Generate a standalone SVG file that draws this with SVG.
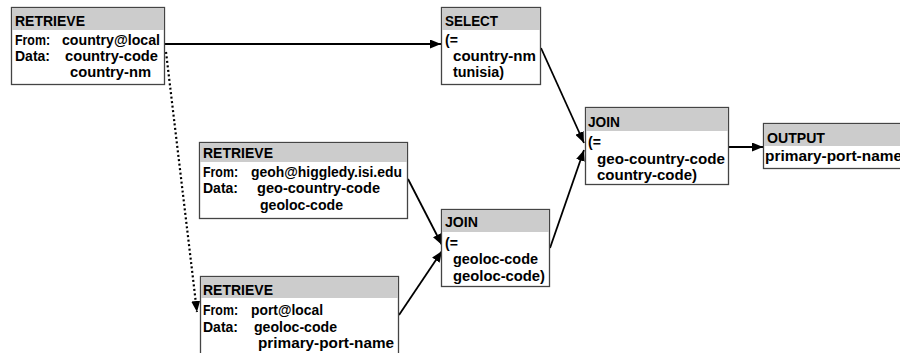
<svg xmlns="http://www.w3.org/2000/svg" width="900" height="353" viewBox="0 0 900 353">
<defs>
<marker id="ah" markerWidth="11" markerHeight="9" refX="11" refY="4.5" orient="auto" markerUnits="userSpaceOnUse">
<path d="M0,0 L11,4.5 L0,9 z" fill="#000"/>
</marker>
<style>
.box{fill:#fff;stroke:#444;stroke-width:1.3}
.hd{fill:#ccc}
text{font-family:"Liberation Sans",Arial,sans-serif;font-weight:bold;font-size:14px;fill:#000}
.c{stroke:#000;stroke-width:1.8;fill:none}
.d{stroke:#000;stroke-width:2.2;fill:none;stroke-dasharray:2,2.5}
</style>
</defs>
<rect width="900" height="353" fill="#fff"/>
<g id="connectors">
<line class="c" x1="165" y1="44" x2="441" y2="44" marker-end="url(#ah)"/>
<path class="d" d="M166,52 L197,312" marker-end="url(#ah)"/>
<line class="c" x1="541" y1="48" x2="584" y2="143" marker-end="url(#ah)"/>
<line class="c" x1="550" y1="248" x2="584" y2="150" marker-end="url(#ah)"/>
<line class="c" x1="408" y1="179" x2="442" y2="245" marker-end="url(#ah)"/>
<line class="c" x1="399" y1="315" x2="442" y2="251" marker-end="url(#ah)"/>
<line class="c" x1="729" y1="147" x2="763" y2="147" marker-end="url(#ah)"/>
</g>
<g id="retrieve1">
<rect class="box" x="11.5" y="7.5" width="153" height="77"/>
<rect class="hd" x="12" y="8" width="152" height="22"/>
<text x="15" y="26" textLength="70" lengthAdjust="spacingAndGlyphs">RETRIEVE</text>
<text x="15" y="45" textLength="35" lengthAdjust="spacingAndGlyphs">From:</text>
<text x="62" y="45" textLength="98" lengthAdjust="spacingAndGlyphs">country@local</text>
<text x="15" y="61" textLength="35" lengthAdjust="spacingAndGlyphs">Data:</text>
<text x="65" y="61" textLength="93" lengthAdjust="spacingAndGlyphs">country-code</text>
<text x="70" y="77" textLength="81" lengthAdjust="spacingAndGlyphs">country-nm</text>
</g>
<g id="select">
<rect class="box" x="441.5" y="7.5" width="99" height="77"/>
<rect class="hd" x="442" y="8" width="98" height="22"/>
<text x="445" y="26" textLength="53" lengthAdjust="spacingAndGlyphs">SELECT</text>
<text x="445" y="45">(=</text>
<text x="453" y="61" textLength="83" lengthAdjust="spacingAndGlyphs">country-nm</text>
<text x="453" y="77" textLength="51" lengthAdjust="spacingAndGlyphs">tunisia)</text>
</g>
<g id="retrieve2">
<rect class="box" x="199.5" y="142.5" width="208" height="76"/>
<rect class="hd" x="200" y="143" width="207" height="19"/>
<text x="203" y="158" textLength="70" lengthAdjust="spacingAndGlyphs">RETRIEVE</text>
<text x="203" y="177" textLength="35" lengthAdjust="spacingAndGlyphs">From:</text>
<text x="251" y="177" textLength="151" lengthAdjust="spacingAndGlyphs">geoh@higgledy.isi.edu</text>
<text x="203" y="193" textLength="35" lengthAdjust="spacingAndGlyphs">Data:</text>
<text x="257" y="193" textLength="123" lengthAdjust="spacingAndGlyphs">geo-country-code</text>
<text x="260" y="210" textLength="83" lengthAdjust="spacingAndGlyphs">geoloc-code</text>
</g>
<g id="retrieve3">
<rect class="box" x="200.5" y="276.5" width="198" height="90"/>
<rect class="hd" x="201" y="277" width="197" height="21"/>
<text x="203" y="295" textLength="70" lengthAdjust="spacingAndGlyphs">RETRIEVE</text>
<text x="203" y="315" textLength="35" lengthAdjust="spacingAndGlyphs">From:</text>
<text x="251" y="315" textLength="72" lengthAdjust="spacingAndGlyphs">port@local</text>
<text x="203" y="332" textLength="35" lengthAdjust="spacingAndGlyphs">Data:</text>
<text x="254" y="332" textLength="83" lengthAdjust="spacingAndGlyphs">geoloc-code</text>
<text x="258" y="348" textLength="136" lengthAdjust="spacingAndGlyphs">primary-port-name</text>
</g>
<g id="join1">
<rect class="box" x="441.5" y="209.5" width="108" height="77"/>
<rect class="hd" x="442" y="210" width="107" height="22"/>
<text x="445" y="227" textLength="33" lengthAdjust="spacingAndGlyphs">JOIN</text>
<text x="445" y="248">(=</text>
<text x="453" y="264" textLength="85" lengthAdjust="spacingAndGlyphs">geoloc-code</text>
<text x="453" y="281" textLength="92" lengthAdjust="spacingAndGlyphs">geoloc-code)</text>
</g>
<g id="join2">
<rect class="box" x="585.5" y="107.5" width="143" height="77"/>
<rect class="hd" x="586" y="108" width="142" height="23"/>
<text x="588" y="127" textLength="32" lengthAdjust="spacingAndGlyphs">JOIN</text>
<text x="588" y="147">(=</text>
<text x="597" y="164" textLength="128" lengthAdjust="spacingAndGlyphs">geo-country-code</text>
<text x="597" y="180" textLength="100" lengthAdjust="spacingAndGlyphs">country-code)</text>
</g>
<g id="output">
<rect class="box" x="763.5" y="123.5" width="150" height="45"/>
<rect class="hd" x="764" y="124" width="150" height="22"/>
<text x="767" y="143" textLength="58" lengthAdjust="spacingAndGlyphs">OUTPUT</text>
<text x="765" y="161" textLength="137" lengthAdjust="spacingAndGlyphs">primary-port-name</text>
</g>
</svg>
